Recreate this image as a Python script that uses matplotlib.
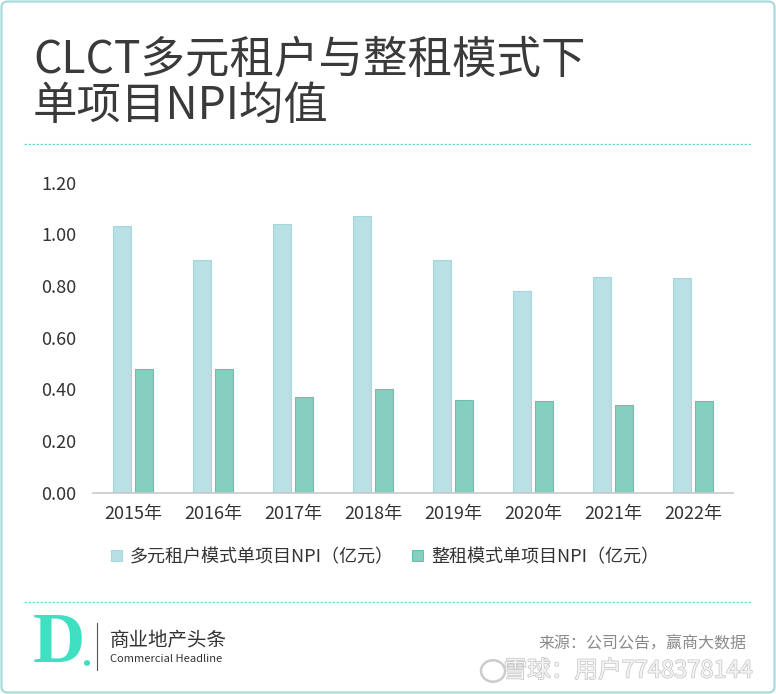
import matplotlib
matplotlib.use("Agg")
import matplotlib.pyplot as plt
import matplotlib.patheffects as pe
from matplotlib.lines import Line2D
from matplotlib.patches import FancyBboxPatch, Circle
import numpy as np

plt.rcParams["font.family"] = ["Noto Sans CJK SC", "DejaVu Sans"]

# ---- data ---------------------------------------------------------
years = ["2015年", "2016年", "2017年", "2018年", "2019年", "2020年", "2021年", "2022年"]
multi_tenant = [1.03, 0.90, 1.04, 1.07, 0.90, 0.78, 0.835, 0.83]
single_lease = [0.48, 0.48, 0.37, 0.40, 0.36, 0.355, 0.34, 0.355]
series_labels = ["多元租户模式单项目NPI（亿元）", "整租模式单项目NPI（亿元）"]
yticks = [0.0, 0.2, 0.4, 0.6, 0.8, 1.0, 1.2]

title_lines = ["CLCT多元租户与整租模式下", "单项目NPI均值"]
source_text = "来源：公司公告，赢商大数据"
watermark = "雪球：用户7748378144"

LIGHT = "#b9e0e4"
LIGHT_EDGE = "#a5d8dd"
DARK = "#86cec0"
DARK_EDGE = "#66c2ab"
TEXT = "#333333"
TEAL = "#3fe0c2"

W, H = 776, 694
fig = plt.figure(figsize=(W / 100, H / 100), dpi=100)


def fx(px):
    return px / W


def fy(py):
    return 1 - py / H


# outer rounded border
fig.patches.append(FancyBboxPatch((fx(1.5), fy(692.5)), fx(773), 691 / H,
                                  boxstyle="round,pad=0,rounding_size=0.008",
                                  transform=fig.transFigure, fill=False,
                                  edgecolor="#a9dcd8", linewidth=1.6))

# title
for yy, line in zip((60, 106), title_lines):
    fig.text(fx(33), fy(yy), line, fontsize=32, color="#3a3a3a",
             va="center", ha="left")

# dashed separators
for yy in (144, 602):
    fig.lines.append(Line2D([fx(24), fx(752)], [fy(yy), fy(yy)],
                            transform=fig.transFigure, color="#6fdccb",
                            lw=0.9, ls=(0, (2, 1.2))))

# chart
ax = fig.add_axes([fx(93), fy(492.7), fx(640), 310.2 / H])
x = np.arange(len(years))
bw = 0.225
off = 0.1375
b1 = ax.bar(x - off, multi_tenant, bw, color=LIGHT, edgecolor=LIGHT_EDGE,
            linewidth=0.8, label=series_labels[0])
b2 = ax.bar(x + off, single_lease, bw, color=DARK, edgecolor=DARK_EDGE,
            linewidth=0.8, label=series_labels[1])
ax.set_xlim(-0.5, len(years) - 0.5)
ax.set_ylim(0, 1.2)
ax.set_yticks(yticks)
ax.set_yticklabels([f"{v:.2f}" for v in yticks])
ax.set_xticks(x)
ax.set_xticklabels(years)
ax.tick_params(axis="both", length=0, labelsize=13, colors=TEXT)
ax.tick_params(axis="y", pad=12)
ax.tick_params(axis="x", pad=9)
for s in ("top", "right", "left"):
    ax.spines[s].set_visible(False)
ax.spines["bottom"].set_color("#c8c8c8")
ax.spines["bottom"].set_linewidth(1.2)

fig.legend(handles=[b1, b2], loc="center", bbox_to_anchor=(fx(385), fy(557)),
           ncol=2, frameon=False, fontsize=13, handlelength=0.6,
           handleheight=0.6, handletextpad=0.45, columnspacing=1.0,
           labelcolor=TEXT)

# footer logo
fig.text(fx(33), fy(645), "D", fontsize=52, color=TEAL, family="Liberation Serif",
         weight="bold", va="center", ha="left")
fig.patches.append(Circle((fx(87), fy(663)), 2.4 / W, transform=fig.transFigure,
                          color=TEAL))
fig.lines.append(Line2D([fx(97), fx(97)], [fy(623), fy(670)],
                        transform=fig.transFigure, color="#555555", lw=0.8))
fig.text(fx(110), fy(641), "商业地产头条", fontsize=14, color="#333333",
         va="center", ha="left")
fig.text(fx(110), fy(659), "Commercial Headline", fontsize=8, color="#333333",
         va="center", ha="left")

fig.text(fx(746), fy(643), source_text, fontsize=11.5, color="#8a8a8a",
         va="center", ha="right")

# watermark
wm_fx = [pe.withStroke(linewidth=1.0, foreground="#c4c4c4")]
fig.patches.append(Circle((fx(493), fy(671)), 12 / W, transform=fig.transFigure,
                          fill=False, edgecolor="#cccccc", lw=1.8))
fig.text(fx(753), fy(671), watermark, fontsize=17, color="#f4f4f4",
         va="center", ha="right", path_effects=wm_fx)

fig.savefig("out.png", dpi=100, facecolor="white")
